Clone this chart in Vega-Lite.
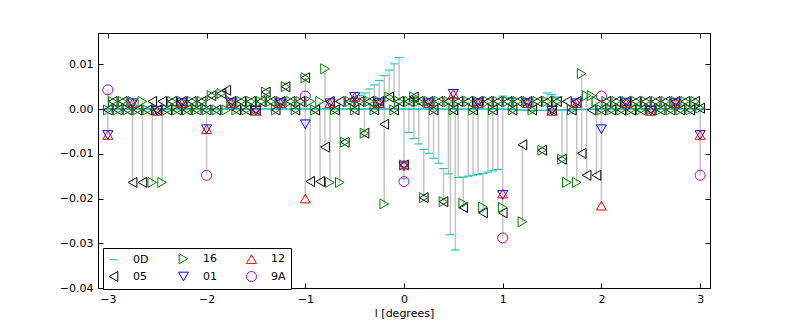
{
"$schema":"https://vega.github.io/schema/vega-lite/v6.json",
"width":612,"height":255,
"autosize":{"type":"none"},
"padding":{"left":98,"top":33,"right":78,"bottom":44},
"background":"white",
"config":{"font":"DejaVu Sans","view":{"stroke":"#000","strokeWidth":1},
"locale":{"number":{"decimal":".","thousands":",","grouping":[3],"currency":["$",""],"minus":"\u2212"}},
"axis":{"grid":false,"domain":false,"tickColor":"#000","tickWidth":1,"tickSize":-5,"labelColor":"#000","labelFontSize":11,"labelPadding":10,"titleFontWeight":"normal","titleFontSize":11,"titleColor":"#000"}},
"data":{"values":[
{"s":"0Dc","l":-3.05,"v":0},{"s":"0Dc","l":-2.5,"v":0},{"s":"0Dc","l":-2,"v":0},{"s":"0Dc","l":-1.5,"v":0},{"s":"0Dc","l":-1,"v":0},{"s":"0Dc","l":-0.5,"v":0},{"s":"0Dc","l":0,"v":0},{"s":"0Dc","l":0.47,"v":0},{"s":"0Dc","l":0.52,"v":0},{"s":"0Dc","l":1,"v":0},{"s":"0Dc","l":1.3,"v":-0.0003},{"s":"0Dc","l":1.6,"v":-0.0002},{"s":"0Dc","l":2,"v":0},{"s":"0Dc","l":2.5,"v":0},{"s":"0Dc","l":3.05,"v":0},
{"s":"0D","l":-0.55,"v":0.0018},{"s":"0D","l":-0.5,"v":0.0024},{"s":"0D","l":-0.45,"v":0.003},{"s":"0D","l":-0.4,"v":0.0036},{"s":"0D","l":-0.35,"v":0.0045},{"s":"0D","l":-0.3,"v":0.0054},{"s":"0D","l":-0.25,"v":0.0064},{"s":"0D","l":-0.2,"v":0.0075},{"s":"0D","l":-0.15,"v":0.0087},{"s":"0D","l":-0.1,"v":0.0101},{"s":"0D","l":-0.05,"v":0.0115},
{"s":"0D","l":0,"v":-0.0155},{"s":"0D","l":0.05,"v":-0.0052},{"s":"0D","l":0.1,"v":-0.0066},{"s":"0D","l":0.15,"v":-0.0078},{"s":"0D","l":0.2,"v":-0.009},{"s":"0D","l":0.25,"v":-0.0099},{"s":"0D","l":0.3,"v":-0.011},{"s":"0D","l":0.35,"v":-0.0121},{"s":"0D","l":0.4,"v":-0.0133},{"s":"0D","l":0.45,"v":-0.0145},{"s":"0D","l":0.47,"v":-0.0281},{"s":"0D","l":0.52,"v":-0.0315},{"s":"0D","l":0.55,"v":-0.0153},{"s":"0D","l":0.6,"v":-0.0152},{"s":"0D","l":0.65,"v":-0.015},{"s":"0D","l":0.7,"v":-0.0148},{"s":"0D","l":0.75,"v":-0.0146},{"s":"0D","l":0.8,"v":-0.0144},{"s":"0D","l":0.85,"v":-0.0141},{"s":"0D","l":0.9,"v":-0.0138},{"s":"0D","l":0.95,"v":-0.0135},
{"s":"0D","l":1,"v":0.0029},{"s":"0D","l":1.05,"v":0.0026},{"s":"0D","l":1.1,"v":0.0023},{"s":"0D","l":1.45,"v":0.0036},{"s":"0D","l":1.5,"v":0.0032},{"s":"0D","l":1.55,"v":0.0027},
{"s":"05","l":-3,"v":-0.0002},{"s":"05","l":-2.95,"v":0.0017},{"s":"05","l":-2.9,"v":-0.0002},{"s":"05","l":-2.85,"v":0.0017},{"s":"05","l":-2.8,"v":-0.0002},{"s":"05","l":-2.75,"v":-0.0164},{"s":"05","l":-2.7,"v":-0.0002},{"s":"05","l":-2.65,"v":-0.0164},{"s":"05","l":-2.6,"v":-0.0002},{"s":"05","l":-2.55,"v":0.0017},
{"s":"05","l":-2.5,"v":-0.0002},{"s":"05","l":-2.45,"v":0.0017},{"s":"05","l":-2.4,"v":-0.0002},{"s":"05","l":-2.35,"v":0.0017},{"s":"05","l":-2.3,"v":-0.0002},{"s":"05","l":-2.25,"v":0.0017},{"s":"05","l":-2.2,"v":-0.0002},{"s":"05","l":-2.15,"v":0.0017},{"s":"05","l":-2.1,"v":-0.0002},{"s":"05","l":-2.05,"v":0.0017},
{"s":"05","l":-2,"v":-0.0002},{"s":"05","l":-1.95,"v":0.003},{"s":"05","l":-1.9,"v":-0.0002},{"s":"05","l":-1.85,"v":0.0035},{"s":"05","l":-1.8,"v":0.0042},{"s":"05","l":-1.75,"v":0.0017},{"s":"05","l":-1.7,"v":-0.0002},{"s":"05","l":-1.65,"v":0.0017},{"s":"05","l":-1.6,"v":-0.0002},{"s":"05","l":-1.55,"v":0.0017},
{"s":"05","l":-1.5,"v":-0.0002},{"s":"05","l":-1.45,"v":0.0017},{"s":"05","l":-1.4,"v":0.0038},{"s":"05","l":-1.35,"v":0.0017},{"s":"05","l":-1.3,"v":-0.0002},{"s":"05","l":-1.25,"v":0.0017},{"s":"05","l":-1.2,"v":0.005},{"s":"05","l":-1.15,"v":0.0017},{"s":"05","l":-1.1,"v":-0.0002},{"s":"05","l":-1.05,"v":0.0017},
{"s":"05","l":-1,"v":0.007},{"s":"05","l":-0.95,"v":-0.0162},{"s":"05","l":-0.9,"v":-0.0002},{"s":"05","l":-0.85,"v":-0.0162},{"s":"05","l":-0.8,"v":-0.0085},{"s":"05","l":-0.75,"v":0.0017},{"s":"05","l":-0.7,"v":-0.0002},{"s":"05","l":-0.65,"v":0.0017},{"s":"05","l":-0.6,"v":-0.0074},{"s":"05","l":-0.55,"v":0.0017},
{"s":"05","l":-0.5,"v":-0.0002},{"s":"05","l":-0.45,"v":0.0017},{"s":"05","l":-0.4,"v":-0.0054},{"s":"05","l":-0.35,"v":0.0017},{"s":"05","l":-0.3,"v":-0.0002},{"s":"05","l":-0.25,"v":0.0017},{"s":"05","l":-0.2,"v":-0.0034},{"s":"05","l":-0.15,"v":0.0027},{"s":"05","l":-0.1,"v":-0.0002},{"s":"05","l":-0.05,"v":0.0017},
{"s":"05","l":0,"v":-0.0125},{"s":"05","l":0.05,"v":0.0017},{"s":"05","l":0.1,"v":0.0027},{"s":"05","l":0.15,"v":0.0017},{"s":"05","l":0.2,"v":-0.0198},{"s":"05","l":0.25,"v":0.0017},{"s":"05","l":0.3,"v":-0.0002},{"s":"05","l":0.35,"v":0.0017},{"s":"05","l":0.4,"v":-0.0207},{"s":"05","l":0.45,"v":0.0017},
{"s":"05","l":0.5,"v":-0.0002},{"s":"05","l":0.55,"v":0.0017},{"s":"05","l":0.6,"v":-0.022},{"s":"05","l":0.65,"v":0.0017},{"s":"05","l":0.7,"v":-0.0002},{"s":"05","l":0.75,"v":0.0017},{"s":"05","l":0.8,"v":-0.0232},{"s":"05","l":0.85,"v":0.0017},{"s":"05","l":0.9,"v":-0.0002},{"s":"05","l":0.95,"v":0.0017},
{"s":"05","l":1,"v":-0.0232},{"s":"05","l":1.05,"v":0.0017},{"s":"05","l":1.1,"v":-0.0002},{"s":"05","l":1.15,"v":0.0017},{"s":"05","l":1.2,"v":-0.008},{"s":"05","l":1.25,"v":0.0017},{"s":"05","l":1.3,"v":-0.0002},{"s":"05","l":1.35,"v":0.0017},{"s":"05","l":1.4,"v":-0.0092},{"s":"05","l":1.45,"v":0.0017},
{"s":"05","l":1.5,"v":-0.0002},{"s":"05","l":1.55,"v":0.0017},{"s":"05","l":1.6,"v":-0.0112},{"s":"05","l":1.65,"v":0.0017},{"s":"05","l":1.7,"v":-0.0002},{"s":"05","l":1.75,"v":0.0017},{"s":"05","l":1.8,"v":-0.0099},{"s":"05","l":1.85,"v":-0.0148},{"s":"05","l":1.9,"v":-0.0002},{"s":"05","l":1.95,"v":-0.0148},
{"s":"05","l":2,"v":-0.0002},{"s":"05","l":2.05,"v":0.0017},{"s":"05","l":2.1,"v":-0.0002},{"s":"05","l":2.15,"v":0.0017},{"s":"05","l":2.2,"v":-0.0002},{"s":"05","l":2.25,"v":0.0017},{"s":"05","l":2.3,"v":-0.0002},{"s":"05","l":2.35,"v":0.0017},{"s":"05","l":2.4,"v":-0.0002},{"s":"05","l":2.45,"v":0.0017},
{"s":"05","l":2.5,"v":-0.0002},{"s":"05","l":2.55,"v":0.0017},{"s":"05","l":2.6,"v":-0.0002},{"s":"05","l":2.65,"v":0.0017},{"s":"05","l":2.7,"v":-0.0002},{"s":"05","l":2.75,"v":0.0017},{"s":"05","l":2.8,"v":-0.0002},{"s":"05","l":2.85,"v":0.0017},{"s":"05","l":2.9,"v":-0.0002},{"s":"05","l":2.95,"v":0.0017},{"s":"05","l":3,"v":0.0002},
{"s":"16","l":-3,"v":-0.0002},{"s":"16","l":-2.95,"v":0.0017},{"s":"16","l":-2.9,"v":-0.0002},{"s":"16","l":-2.85,"v":0.0017},{"s":"16","l":-2.8,"v":-0.0002},{"s":"16","l":-2.75,"v":0.0017},{"s":"16","l":-2.7,"v":-0.0002},{"s":"16","l":-2.65,"v":0.0017},{"s":"16","l":-2.6,"v":-0.0002},{"s":"16","l":-2.55,"v":-0.0164},
{"s":"16","l":-2.5,"v":-0.0002},{"s":"16","l":-2.45,"v":-0.0164},{"s":"16","l":-2.4,"v":-0.0002},{"s":"16","l":-2.35,"v":0.0017},{"s":"16","l":-2.3,"v":-0.0002},{"s":"16","l":-2.25,"v":0.0017},{"s":"16","l":-2.2,"v":-0.0002},{"s":"16","l":-2.15,"v":0.0017},{"s":"16","l":-2.1,"v":-0.0002},{"s":"16","l":-2.05,"v":0.0017},
{"s":"16","l":-2,"v":-0.0002},{"s":"16","l":-1.95,"v":0.003},{"s":"16","l":-1.9,"v":-0.0002},{"s":"16","l":-1.85,"v":0.0035},{"s":"16","l":-1.8,"v":-0.0002},{"s":"16","l":-1.75,"v":0.0017},{"s":"16","l":-1.7,"v":-0.0002},{"s":"16","l":-1.65,"v":0.0017},{"s":"16","l":-1.6,"v":-0.0002},{"s":"16","l":-1.55,"v":0.0017},
{"s":"16","l":-1.5,"v":-0.0002},{"s":"16","l":-1.45,"v":0.0017},{"s":"16","l":-1.4,"v":0.0038},{"s":"16","l":-1.35,"v":0.0017},{"s":"16","l":-1.3,"v":-0.0002},{"s":"16","l":-1.25,"v":0.0017},{"s":"16","l":-1.2,"v":0.005},{"s":"16","l":-1.15,"v":0.0017},{"s":"16","l":-1.1,"v":-0.0002},{"s":"16","l":-1.05,"v":0.0017},
{"s":"16","l":-1,"v":0.007},{"s":"16","l":-0.95,"v":0.0017},{"s":"16","l":-0.9,"v":-0.0002},{"s":"16","l":-0.85,"v":0.0017},{"s":"16","l":-0.8,"v":0.009},{"s":"16","l":-0.75,"v":-0.0164},{"s":"16","l":-0.7,"v":-0.0002},{"s":"16","l":-0.65,"v":-0.0164},{"s":"16","l":-0.6,"v":-0.0074},{"s":"16","l":-0.55,"v":0.0017},
{"s":"16","l":-0.5,"v":-0.0002},{"s":"16","l":-0.45,"v":0.0017},{"s":"16","l":-0.4,"v":-0.0054},{"s":"16","l":-0.35,"v":0.0017},{"s":"16","l":-0.3,"v":-0.0002},{"s":"16","l":-0.25,"v":0.0017},{"s":"16","l":-0.2,"v":-0.0212},{"s":"16","l":-0.15,"v":0.0027},{"s":"16","l":-0.1,"v":-0.0002},{"s":"16","l":-0.05,"v":0.0017},
{"s":"16","l":0,"v":-0.0125},{"s":"16","l":0.05,"v":0.0017},{"s":"16","l":0.1,"v":0.0027},{"s":"16","l":0.15,"v":0.0017},{"s":"16","l":0.2,"v":-0.0198},{"s":"16","l":0.25,"v":0.0017},{"s":"16","l":0.3,"v":-0.0002},{"s":"16","l":0.35,"v":0.0017},{"s":"16","l":0.4,"v":-0.0207},{"s":"16","l":0.45,"v":0.0017},
{"s":"16","l":0.5,"v":-0.0002},{"s":"16","l":0.55,"v":0.0017},{"s":"16","l":0.6,"v":-0.0211},{"s":"16","l":0.65,"v":0.0017},{"s":"16","l":0.7,"v":-0.0002},{"s":"16","l":0.75,"v":0.0017},{"s":"16","l":0.8,"v":-0.0219},{"s":"16","l":0.85,"v":0.0017},{"s":"16","l":0.9,"v":-0.0002},{"s":"16","l":0.95,"v":0.0017},
{"s":"16","l":1,"v":-0.022},{"s":"16","l":1.05,"v":0.0017},{"s":"16","l":1.1,"v":-0.0002},{"s":"16","l":1.15,"v":0.0017},{"s":"16","l":1.2,"v":-0.0252},{"s":"16","l":1.25,"v":0.0017},{"s":"16","l":1.3,"v":-0.0002},{"s":"16","l":1.35,"v":0.0017},{"s":"16","l":1.4,"v":-0.0092},{"s":"16","l":1.45,"v":0.0017},
{"s":"16","l":1.5,"v":-0.0002},{"s":"16","l":1.55,"v":0.0017},{"s":"16","l":1.6,"v":-0.0112},{"s":"16","l":1.65,"v":-0.0164},{"s":"16","l":1.7,"v":-0.0002},{"s":"16","l":1.75,"v":-0.0164},{"s":"16","l":1.8,"v":0.0079},{"s":"16","l":1.85,"v":0.003},{"s":"16","l":1.9,"v":0.003},{"s":"16","l":1.95,"v":0.0017},
{"s":"16","l":2,"v":-0.0002},{"s":"16","l":2.05,"v":0.0017},{"s":"16","l":2.1,"v":-0.0002},{"s":"16","l":2.15,"v":0.0017},{"s":"16","l":2.2,"v":-0.0002},{"s":"16","l":2.25,"v":0.0017},{"s":"16","l":2.3,"v":-0.0002},{"s":"16","l":2.35,"v":0.0017},{"s":"16","l":2.4,"v":-0.0002},{"s":"16","l":2.45,"v":0.0017},
{"s":"16","l":2.5,"v":-0.0002},{"s":"16","l":2.55,"v":0.0017},{"s":"16","l":2.6,"v":-0.0002},{"s":"16","l":2.65,"v":0.0017},{"s":"16","l":2.7,"v":-0.0002},{"s":"16","l":2.75,"v":0.0017},{"s":"16","l":2.8,"v":-0.0002},{"s":"16","l":2.85,"v":0.0017},{"s":"16","l":2.9,"v":-0.0002},{"s":"16","l":2.95,"v":0.0017},{"s":"16","l":3,"v":0.0002},
{"s":"01","l":-3,"v":-0.0058},{"s":"01","l":-2.75,"v":0.0013},{"s":"01","l":-2.5,"v":-0.0004},{"s":"01","l":-2.25,"v":0.0013},{"s":"01","l":-2,"v":-0.0045},{"s":"01","l":-1.75,"v":0.0013},{"s":"01","l":-1.5,"v":-0.0004},{"s":"01","l":-1.25,"v":0.0013},{"s":"01","l":-1,"v":-0.0034},{"s":"01","l":-0.75,"v":0.0013},{"s":"01","l":-0.5,"v":0.0027},{"s":"01","l":-0.25,"v":0.0013},{"s":"01","l":0,"v":-0.0128},
{"s":"01","l":0.25,"v":0.0013},{"s":"01","l":0.5,"v":0.0034},{"s":"01","l":0.75,"v":0.0013},{"s":"01","l":1,"v":-0.0192},{"s":"01","l":1.25,"v":0.0013},{"s":"01","l":1.5,"v":-0.0004},{"s":"01","l":1.75,"v":0.0013},{"s":"01","l":2,"v":-0.0045},{"s":"01","l":2.25,"v":0.0013},{"s":"01","l":2.5,"v":-0.0004},{"s":"01","l":2.75,"v":0.0013},{"s":"01","l":3,"v":-0.0058},
{"s":"12","l":-3,"v":-0.0058},{"s":"12","l":-2.75,"v":0.0013},{"s":"12","l":-2.5,"v":-0.0004},{"s":"12","l":-2.25,"v":0.0013},{"s":"12","l":-2,"v":-0.0045},{"s":"12","l":-1.75,"v":0.0013},{"s":"12","l":-1.5,"v":-0.0004},{"s":"12","l":-1.25,"v":0.0013},{"s":"12","l":-1,"v":-0.02},{"s":"12","l":-0.75,"v":0.0013},{"s":"12","l":-0.5,"v":0.0027},{"s":"12","l":-0.25,"v":0.0013},{"s":"12","l":0,"v":-0.0124},
{"s":"12","l":0.25,"v":0.0013},{"s":"12","l":0.5,"v":0.0034},{"s":"12","l":0.75,"v":0.0013},{"s":"12","l":1,"v":-0.0189},{"s":"12","l":1.25,"v":0.0013},{"s":"12","l":1.5,"v":-0.0004},{"s":"12","l":1.75,"v":0.0013},{"s":"12","l":2,"v":-0.0216},{"s":"12","l":2.25,"v":0.0013},{"s":"12","l":2.5,"v":-0.0004},{"s":"12","l":2.75,"v":0.0013},{"s":"12","l":3,"v":-0.0058},
{"s":"9A","l":-3,"v":0.0043},{"s":"9A","l":-2,"v":-0.0148},{"s":"9A","l":-1,"v":0.0029},{"s":"9A","l":0,"v":-0.0162},{"s":"9A","l":1,"v":-0.0288},{"s":"9A","l":2,"v":0.0029},{"s":"9A","l":3,"v":-0.0148}
]},
"layer":[
{"transform":[{"aggregate":[{"op":"min","field":"v","as":"lo"},{"op":"max","field":"v","as":"hi"}],"groupby":["l"]}],
"mark":{"type":"rule","color":"#c4c4c4","strokeWidth":1.5},
"encoding":{
"x":{"field":"l","type":"quantitative","scale":{"domain":[-3.1,3.1],"nice":false,"zero":false},"axis":{"orient":"bottom","values":[-3,-2,-1,0,1,2,3],"format":"d","title":"l [degrees]","titlePadding":3}},
"y":{"field":"lo","type":"quantitative","scale":{"domain":[-0.04,0.017],"nice":false,"zero":false},"axis":{"orient":"left","values":[-0.04,-0.03,-0.02,-0.01,0,0.01],"format":".2f","title":null}},
"y2":{"field":"hi"}}},
{"transform":[{"filter":"datum.s==='0Dc'"}],
"mark":{"type":"line","color":"#00bfbf","strokeWidth":1.5},
"encoding":{
"x":{"field":"l","type":"quantitative","scale":{"domain":[-3.1,3.1],"nice":false,"zero":false},"axis":null},
"y":{"field":"v","type":"quantitative","scale":{"domain":[-0.04,0.017],"nice":false,"zero":false},"axis":null}}},
{"transform":[{"filter":"datum.s!=='0Dc'"}],
"mark":{"type":"point","filled":false,"size":100,"strokeWidth":1,"opacity":1},
"encoding":{
"x":{"field":"l","type":"quantitative","scale":{"domain":[-3.1,3.1],"nice":false,"zero":false},"axis":{"orient":"top","values":[-3,-2,-1,0,1,2,3],"labels":false,"title":null}},
"y":{"field":"v","type":"quantitative","scale":{"domain":[-0.04,0.017],"nice":false,"zero":false},"axis":{"orient":"right","values":[-0.04,-0.03,-0.02,-0.01,0,0.01],"labels":false,"title":null}},
"color":{"field":"s","type":"nominal","scale":{"domain":["0D","05","16","01","12","9A"],"range":["#00bfbf","#000000","#008000","#0000ff","#ff0000","#bf00bf"]},
"legend":{"orient":"none","legendX":5,"legendY":215,"columns":3,"title":null,"strokeColor":"#000","fillColor":"#fff","padding":5,"symbolSize":100,"symbolStrokeWidth":1,"labelFontSize":11,"labelOffset":14,"columnPadding":27,"rowPadding":3,"labelColor":"#000"}},
"shape":{"field":"s","type":"nominal","scale":{"domain":["0D","05","16","01","12","9A"],"range":["M-0.85,0L0.85,0","triangle-left","triangle-right","triangle-down","triangle-up","circle"]},
"legend":{"orient":"none","legendX":5,"legendY":215,"columns":3,"title":null,"strokeColor":"#000","fillColor":"#fff","padding":5,"symbolSize":100,"symbolStrokeWidth":1,"labelFontSize":11,"labelOffset":14,"columnPadding":27,"rowPadding":3,"labelColor":"#000"}}}}
],
"resolve":{"axis":{"x":"independent","y":"independent"}}
}
